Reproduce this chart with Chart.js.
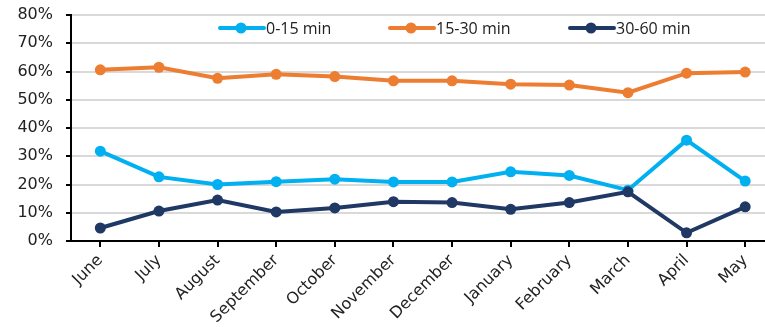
<!DOCTYPE html>
<html>
<head>
<meta charset="utf-8">
<title>Wait times by month</title>
<script src="https://cdn.jsdelivr.net/npm/chart.js@4"></script>
<style>
    html, body { margin: 0; padding: 0; background: #fff; overflow: hidden; }
    #wrap { width: 780px; height: 327px; }
</style>
</head>
<body>
<div id="wrap"><canvas id="waitChart" width="780" height="327"></canvas></div>
<script>
// Months on the x axis
const months = ['June', 'July', 'August', 'September', 'October', 'November',
    'December', 'January', 'February', 'March', 'April', 'May'];

// Share of visits per wait band (%)
const wait0to15 = [31.8, 22.7, 20.0, 21.0, 21.9, 20.9, 20.9, 24.5, 23.2, 18.0, 35.7, 21.2];
const wait15to30 = [60.6, 61.5, 57.6, 59.0, 58.2, 56.7, 56.7, 55.5, 55.2, 52.5, 59.4, 59.8];
const wait30to60 = [4.6, 10.6, 14.5, 10.3, 11.7, 13.9, 13.6, 11.2, 13.6, 17.4, 2.9, 12.1];

const seriesNames = ['0-15 min', '15-30 min', '30-60 min'];
const seriesColors = ['#00B0F0', '#ED7D31', '#203864'];

// Y axis range
const yMin = 0;
const yMax = 80;
const yStep = 10;

function lineSet(label, data, color, order) {
    return {
        label: label,
        data: data,
        borderColor: color,
        backgroundColor: color,
        borderWidth: 4,
        pointRadius: 5.5,
        pointHoverRadius: 5.5,
        pointBorderWidth: 0,
        tension: 0,
        order: order
    };
}

// Legend drawn inside the plot: short line with a dot, then the label
const insideLegend = {
    id: 'insideLegend',
    afterDraw(chart) {
        const ctx = chart.ctx;
        const starts = [220, 390, 570];
        const y = 28;
        ctx.save();
        ctx.font = '16px "Open Sans"';
        ctx.textBaseline = 'middle';
        ctx.textAlign = 'left';
        chart.data.datasets.forEach((ds, i) => {
            const x = starts[i];
            ctx.strokeStyle = ds.borderColor;
            ctx.lineWidth = 4;
            ctx.lineCap = 'round';
            ctx.beginPath();
            ctx.moveTo(x, y);
            ctx.lineTo(x + 44, y);
            ctx.stroke();
            ctx.fillStyle = ds.borderColor;
            ctx.beginPath();
            ctx.arc(x + 21, y, 5.5, 0, Math.PI * 2);
            ctx.fill();
            ctx.fillStyle = '#222';
            ctx.fillText(ds.label, x + 46, y + 1);
        });
        ctx.restore();
    }
};

const ctx = document.getElementById('waitChart').getContext('2d');
new Chart(ctx, {
    type: 'line',
    data: {
        labels: months,
        datasets: [
            lineSet(seriesNames[0], wait0to15, seriesColors[0], 2),
            lineSet(seriesNames[1], wait15to30, seriesColors[1], 1),
            lineSet(seriesNames[2], wait30to60, seriesColors[2], 0)
        ]
    },
    options: {
        responsive: false,
        animation: false,
        layout: {
            padding: { top: 15, left: 0, right: 4, bottom: 0 }
        },
        plugins: {
            legend: { display: false },
            tooltip: { enabled: false }
        },
        scales: {
            x: {
                offset: true,
                afterFit: scale => {
                    scale.height = 86;
                    scale.paddingLeft = 0;
                    scale.paddingRight = 0;
                },
                grid: {
                    drawOnChartArea: false,
                    drawTicks: true,
                    tickLength: 6,
                    color: '#000',
                    lineWidth: 2
                },
                border: { color: '#000', width: 2 },
                ticks: {
                    color: '#222',
                    font: { family: 'DejaVu Sans', size: 16 },
                    minRotation: 45,
                    maxRotation: 45,
                    autoSkip: false,
                    padding: 4
                }
            },
            y: {
                min: yMin,
                max: yMax,
                afterFit: scale => {
                    scale.width = 71;
                    scale.paddingTop = 0;
                    scale.paddingBottom = 0;
                },
                grid: {
                    color: '#D9D9D9',
                    lineWidth: 2,
                    drawTicks: true,
                    tickLength: 5,
                    tickColor: '#000'
                },
                border: { color: '#000', width: 2 },
                ticks: {
                    stepSize: yStep,
                    color: '#222',
                    font: { family: 'DejaVu Sans', size: 16 },
                    padding: 13,
                    callback: v => v + '%'
                }
            }
        }
    },
    plugins: [insideLegend]
});
</script>
</body>
</html>
